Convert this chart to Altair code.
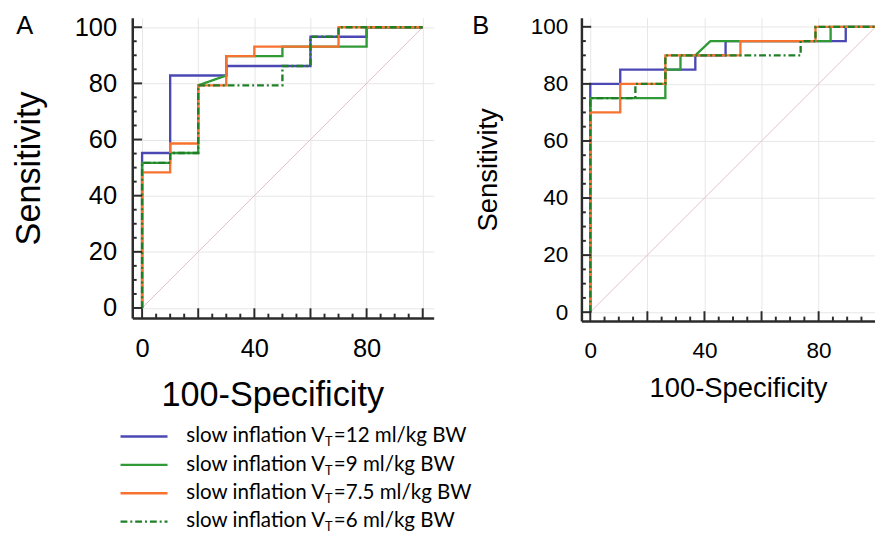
import altair as alt
import pandas as pd

# ---------------- data ----------------
keys = ["12", "9", "7.5", "6"]
legend_values = ["=12 ml/kg BW", "=9 ml/kg BW", "=7.5 ml/kg BW", "=6 ml/kg BW"]
colors = ["#4b48b4", "#2f9a36", "#f7722e", "#1f7f27"]
dashes = [[1, 0], [1, 0], [1, 0], [7, 3, 2, 3]]

# Panel A (100-Specificity, Sensitivity)
a12_x = [0, 0, 10, 10, 30, 30, 60, 60, 80, 80, 100]
a12_y = [0, 55.2, 55.2, 82.8, 82.8, 86.2, 86.2, 96.6, 96.6, 100, 100]
a9_x = [0, 0, 10, 10, 20, 20, 30, 30, 50, 50, 80, 80, 100]
a9_y = [0, 51.7, 51.7, 55.2, 55.2, 79.3, 82.8, 89.7, 89.7, 93.1, 93.1, 100, 100]
a75_x = [0, 0, 10, 10, 20, 20, 30, 30, 40, 40, 70, 70, 100]
a75_y = [0, 48.3, 48.3, 58.6, 58.6, 79.3, 79.3, 89.7, 89.7, 93.1, 93.1, 100, 100]
a6_x = [0, 0, 10, 10, 20, 20, 50, 50, 60, 60, 70, 70, 100]
a6_y = [0, 51.7, 51.7, 55.2, 55.2, 79.3, 79.3, 86.2, 86.2, 96.6, 96.6, 100, 100]

# Panel B
b12_x = [0, 0, 10.5, 10.5, 36.8, 36.8, 47.4, 47.4, 89.5, 89.5, 100]
b12_y = [0, 80, 80, 85, 85, 90, 90, 95, 95, 100, 100]
b9_x = [0, 0, 26.3, 26.3, 31.6, 31.6, 36.8, 42.1, 84.2, 84.2, 100]
b9_y = [0, 75, 75, 85, 85, 90, 90, 95, 95, 100, 100]
b75_x = [0, 0, 10.5, 10.5, 26.3, 26.3, 52.6, 52.6, 78.9, 78.9, 100]
b75_y = [0, 70, 70, 80, 80, 90, 90, 95, 95, 100, 100]
b6_x = [0, 0, 15.8, 15.8, 26.3, 26.3, 73.7, 73.7, 78.9, 78.9, 100]
b6_y = [0, 75, 75, 80, 80, 90, 90, 95, 95, 100, 100]

diag_x = [0, 100]
diag_y = [0, 100]

major_ticks = [0, 20, 40, 60, 80, 100]
minor_ticks = [5, 10, 15, 25, 30, 35, 45, 50, 55, 65, 70, 75, 85, 90, 95]

AXIS_FONT = "Liberation Sans"
DARK = "#2b2b2b"


def make_panel(curves, xdom, ydom, W, H, lab_size, tit_size, lab_pad_x, lab_pad_y,
               tit_pad_x, tit_pad_y, title_x, x_major, letter, letter_pos, extra_layers=()):
    xs = alt.Scale(domain=xdom, nice=False, zero=False)
    ys = alt.Scale(domain=ydom, nice=False, zero=False)
    axx = alt.Axis(values=x_major, grid=True, gridColor="#e6e6e6", gridWidth=1,
                   ticks=False, tickSize=0, domainColor=DARK, domainWidth=2.5,
                   labelFont=AXIS_FONT, labelFontSize=lab_size, labelColor="black",
                   labelPadding=lab_pad_x, labelOverlap=False,
                   labelExpr="(datum.value == 0 || datum.value == 40 || datum.value == 80) ? datum.label : ''",
                   title="100-Specificity", titleFont=AXIS_FONT, titleFontSize=tit_size,
                   titleFontWeight="normal", titleColor="black", titlePadding=tit_pad_x,
                   titleX=title_x)
    axy = alt.Axis(values=major_ticks, grid=True, gridColor="#e6e6e6", gridWidth=1,
                   ticks=False, tickSize=0, domainColor=DARK, domainWidth=2.5,
                   labelFont=AXIS_FONT, labelFontSize=lab_size, labelColor="black",
                   labelPadding=lab_pad_y, labelOverlap=False,
                   title="Sensitivity", titleFont=AXIS_FONT, titleFontSize=tit_size,
                   titleFontWeight="normal", titleColor="black", titlePadding=tit_pad_y)
    layers = []
    diag = pd.DataFrame({"x": diag_x, "y": diag_y})
    layers.append(alt.Chart(diag).mark_line(color="#e6bcc6", strokeWidth=1, clip=True).encode(
        x=alt.X("x:Q", scale=xs, axis=axx), y=alt.Y("y:Q", scale=ys, axis=axy)))
    for (cx, cy), color, dash in zip(curves, colors, dashes):
        df = pd.DataFrame({"x": cx, "y": cy, "i": list(range(len(cx)))})
        layers.append(alt.Chart(df).mark_line(color=color, strokeDash=dash, strokeWidth=2.4,
                                              clip=True, strokeJoin="miter").encode(
            x=alt.X("x:Q", scale=xs, axis=axx), y=alt.Y("y:Q", scale=ys, axis=axy),
            order="i:Q"))
    xmax = xdom[1]
    for vals, ln in ((major_ticks, 10), (minor_ticks, 4.5)):
        tv = pd.DataFrame({"v": [v for v in vals if v <= xmax]})
        layers.append(alt.Chart(tv).mark_rule(color=DARK, strokeWidth=2).encode(
            x=alt.X("v:Q", scale=xs, axis=axx), y=alt.value(H), y2=alt.value(H - ln)))
        tv2 = pd.DataFrame({"v": vals})
        layers.append(alt.Chart(tv2).mark_rule(color=DARK, strokeWidth=2).encode(
            y=alt.Y("v:Q", scale=ys, axis=axy), x=alt.value(0), x2=alt.value(ln)))
    one = alt.Data(values=[{}])
    layers.append(alt.Chart(one).mark_text(text=letter, font=AXIS_FONT, fontSize=26,
                                           align="center", baseline="alphabetic",
                                           color="black").encode(
        x=alt.value(letter_pos[0]), y=alt.value(letter_pos[1])))
    layers.extend(extra_layers)
    return alt.layer(*layers).properties(width=W, height=H)


# ---------------- legend (below panel A, in A's pixel space) ----------------
one = alt.Data(values=[{}])
legend_layers = []
leg_y0, leg_step = 428, 29
line_x0, line_x1 = -12, 36
v_end, t_w = 197, 9
LEG_FONT = "Lato"
for i, key in enumerate(keys):
    yy = leg_y0 + i * leg_step
    legend_layers.append(alt.Chart(one).mark_rule(color=colors[i], strokeDash=dashes[i],
                                                  strokeWidth=2.4).encode(
        x=alt.value(line_x0), x2=alt.value(line_x1), y=alt.value(yy)))
    legend_layers.append(alt.Chart(one).mark_text(text="slow inflation V", font=LEG_FONT,
                                                  fontSize=21, align="right",
                                                  baseline="middle", color="black").encode(
        x=alt.value(v_end), y=alt.value(yy)))
    legend_layers.append(alt.Chart(one).mark_text(text="T", font=LEG_FONT, fontSize=13,
                                                  align="left", baseline="middle", dy=6,
                                                  color="black").encode(
        x=alt.value(v_end), y=alt.value(yy)))
    legend_layers.append(alt.Chart(one).mark_text(text=legend_values[i], font=LEG_FONT,
                                                  fontSize=21, align="left",
                                                  baseline="middle", color="black").encode(
        x=alt.value(v_end + t_w), y=alt.value(yy)))

panelA = make_panel([(a12_x, a12_y), (a9_x, a9_y), (a75_x, a75_y), (a6_x, a6_y)],
                    [-3.5, 103.9], [-3.6, 103.4], 308, 307, 26, 35, 18, 16, 17, 28, 143,
                    major_ticks, "A", (-110, 17), legend_layers)
panelB = make_panel([(b12_x, b12_y), (b9_x, b9_y), (b75_x, b75_y), (b6_x, b6_y)],
                    [-3.1, 99.75], [-3.1, 103.2], 300, 310, 23, 28, 19, 14, 13, 28, 160,
                    [0, 20, 40, 60, 80], "B", (-103, 17))

chart = alt.hconcat(panelA, panelB, spacing=0).properties(
    padding={"left": 4, "top": 0, "right": 0, "bottom": 5}
).configure_view(stroke=None)

chart.save("out.html", embed_options={"renderer": "svg", "actions": False})
